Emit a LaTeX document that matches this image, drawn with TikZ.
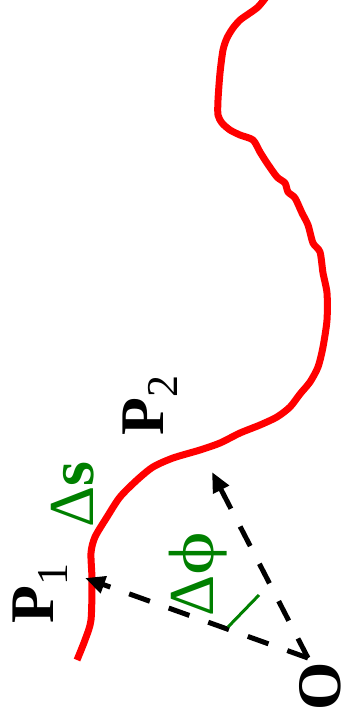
\documentclass[tikz,border=0pt]{standalone}
\usepackage{fontspec}
\setmainfont{Liberation Serif}
\usetikzlibrary{arrows.meta}
\definecolor{curvered}{RGB}{255,0,0}
\definecolor{labgreen}{RGB}{0,128,0}
\begin{document}
\begin{tikzpicture}[x=1pt,y=-1pt,
  curve/.style={draw=curvered,line width=7pt,line join=round},
  radius/.style={draw=black,line width=5pt,dash pattern=on 22pt off 20pt,
    -{Triangle[length=20pt,width=17pt]}},
  anglemark/.style={draw=labgreen,line width=3pt},
  biglab/.style={rotate=90,anchor=base west,inner sep=0pt,font=\fontsize{62}{62}\selectfont\bfseries},
  greenlab/.style={rotate=90,anchor=base west,inner sep=0pt,text=labgreen,font=\fontsize{64}{64}\selectfont}
]
\useasboundingbox (0,0) rectangle (345,725);
% path
\draw[curve] plot[smooth,tension=0.45] coordinates {
(267,-4) (258,7) (247,15) (240,20) (233,28) (227,38) (223,50) (220,73) (218,100)
(218,115) (222,123) (230,130) (240,135) (253,140) (260,152) (267,163) (277,177)
(285,183) (288,192) (295,198) (302,213) (308,225) (313,243) (320,252) (323,273)
(327,293) (327,320) (323,347) (318,367) (310,382) (300,394) (290,407) (277,417)
(260,425) (240,433) (220,443) (200,450) (173,458) (153,467) (137,480) (120,497)
(107,517) (95,537) (91,553) (92,580) (91,620) (85,640) (77,660)};
% points
\coordinate (O) at (308,658);
\coordinate (P1) at (85,578);
\coordinate (P2) at (212,472);
\coordinate (A1) at (228,627);
\coordinate (A2) at (259,595);
\draw[radius] (O) -- (P1);
\draw[radius] (O) -- (P2);
\draw[anglemark] (A1) -- (A2);
% labels
\node[biglab] (lP1) at (53,624) {P\raisebox{-0.24em}{\fontsize{44}{44}\selectfont\mdseries 1}};
\node[biglab] (lP2) at (163,436) {P\raisebox{-0.24em}{\fontsize{44}{44}\selectfont\mdseries 2}};
\node[greenlab] (ls) at (93,528) {Δ\textbf{s}};
\node[greenlab] (lphi) at (213,617) {Δ\scalebox{1.3}[1]{ϕ}};
\node[biglab,text depth=0pt] (lO) at (340,711) {O};
\end{tikzpicture}
\end{document}
